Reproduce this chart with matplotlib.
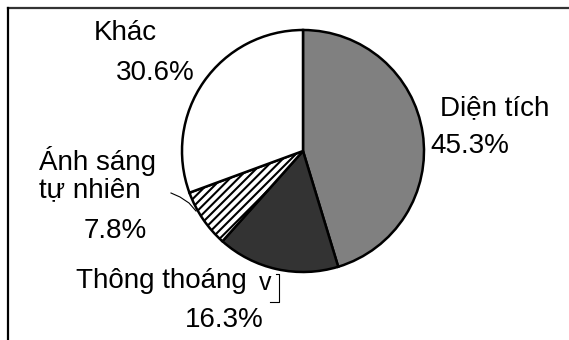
import matplotlib
matplotlib.use("Agg")
from matplotlib import pyplot as plt
from matplotlib.lines import Line2D

# share of each factor
labels = ["Diện tích", "Thông thoáng", "Ánh sáng\ntự nhiên", "Khác"]
values = [45.3, 16.3, 7.8, 30.6]
colors = ["#808080", "#333333", "white", "white"]
hatches = [None, None, "////", None]

W, H = 569, 340
plt.rcParams["font.family"] = ["Liberation Sans", "DejaVu Sans"]
plt.rcParams["hatch.linewidth"] = 1.5
plt.rcParams["hatch.color"] = "black"

fig = plt.figure(figsize=(W / 100, H / 100), dpi=100)
ax = fig.add_axes([0, 0, 1, 1])

# pie in pixel-like data space, y up
wedges, _ = ax.pie(values, colors=colors, startangle=90, counterclock=False,
                   radius=121, center=(303, H - 151),
                   wedgeprops=dict(edgecolor="black", linewidth=1.8))
for w, h in zip(wedges, hatches):
    if h:
        w.set_hatch(h)

ax.set_xlim(0, W)
ax.set_ylim(0, H)
ax.set_aspect("auto")
ax.axis("off")

fs = 20
def pct(v):
    return f"{v:.1f}%"

# labels
ax.text(125, H - 33, "Khác", fontsize=fs, ha="center", va="center")
ax.text(155, H - 73, pct(values[3]), fontsize=fs, ha="center", va="center")
ax.text(495, H - 108, "Diện tích", fontsize=fs, ha="center", va="center")
ax.text(470, H - 146, pct(values[0]), fontsize=fs, ha="center", va="center")
ax.text(39, H - 161, "Ánh sáng", fontsize=fs, ha="left", va="center")
ax.text(39, H - 190, "tự nhiên", fontsize=fs, ha="left", va="center")
ax.text(115, H - 231, pct(values[2]), fontsize=fs, ha="center", va="center")
ax.text(161, H - 281, "Thông thoáng", fontsize=fs, ha="center", va="center")
ax.text(265, H - 283, "v", fontsize=fs - 2, ha="center", va="center")
ax.text(224, H - 320, pct(values[1]), fontsize=fs, ha="center", va="center")

# leader lines
ax.plot([171, 180, 189, 196], [H - 193, H - 197, H - 203, H - 211],
        color="black", lw=0.8)
ax.plot([276, 279, 279, 270], [H - 274, H - 274, H - 302, H - 302],
        color="black", lw=0.8)

# outer frame: top and left only
fig.add_artist(Line2D([8 / W, 1], [1 - 7.5 / H] * 2, transform=fig.transFigure,
                      color="#333333", lw=1.6))
fig.add_artist(Line2D([8 / W] * 2, [0, 1 - 7.5 / H], transform=fig.transFigure,
                      color="black", lw=1.6))

fig.savefig("out.png", dpi=100)
